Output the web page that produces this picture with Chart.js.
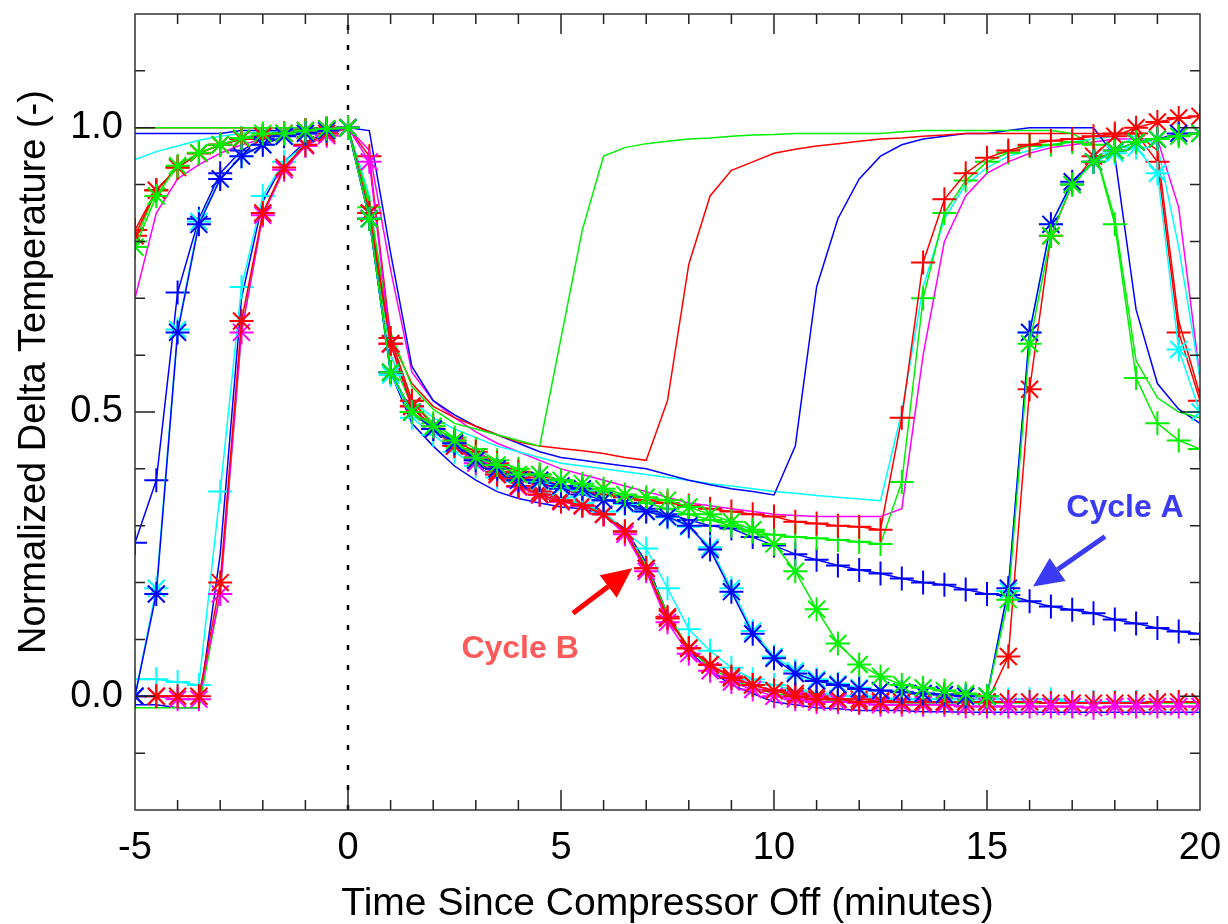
<!DOCTYPE html>
<html>
<head>
<meta charset="utf-8">
<script src="https://cdn.jsdelivr.net/npm/chart.js@4.4.1/dist/chart.umd.min.js"></script>
<style>
  html, body { margin: 0; padding: 0; background: #fff; }
  #wrap { width: 1228px; height: 924px; }
</style>
</head>
<body>
<div id="wrap"><canvas id="chart" width="1228" height="924"></canvas></div>
<script>
// time axis, minutes since compressor off
const minutes = [-5, -4.5, -4, -3.5, -3, -2.5, -2, -1.5, -1, -0.5,
  0, 0.5, 1, 1.5, 2, 2.5, 3, 3.5, 4, 4.5,
  5, 5.5, 6, 6.5, 7, 7.5, 8, 8.5, 9, 9.5,
  10, 10.5, 11, 11.5, 12, 12.5, 13, 13.5, 14, 14.5,
  15, 15.5, 16, 16.5, 17, 17.5, 18, 18.5, 19, 19.5, 20]

// asterisk series
const redStarB = [0.0, 0.0, 0.0, 0.0, 0.20, 0.66, 0.85, 0.93, 0.97, 0.99,
  1.0, 0.85, 0.62, 0.51, 0.47, 0.44, 0.415, 0.39, 0.37, 0.355,
  0.343, 0.336, 0.32, 0.29, 0.225, 0.137, 0.084, 0.056, 0.032, 0.02,
  0.01, 0.0, -0.005, -0.005, -0.01, -0.01, -0.01, -0.01, -0.01, -0.01,
  -0.01, 0.07, 0.54, 0.81, 0.90, 0.95, 0.985, 1.0, 1.01, 1.017, 1.02]
const magentaStar = [0.0, 0.0, -0.005, -0.005, 0.18, 0.64, 0.846, 0.926, 0.968, 0.986,
  1.0, 0.94, 0.62, 0.51, 0.47, 0.44, 0.41, 0.39, 0.368, 0.354,
  0.342, 0.335, 0.32, 0.285, 0.22, 0.13, 0.075, 0.045, 0.025, 0.012,
  0.0, -0.005, -0.01, -0.01, -0.012, -0.015, -0.015, -0.015, -0.015, -0.018,
  -0.018, -0.018, -0.018, -0.018, -0.018, -0.02, -0.018, -0.018, -0.018, -0.018, -0.018]
const redStarEarly = [0.81, 0.89, 0.93, 0.955, 0.97, 0.98, 0.985, 0.99, 0.995, 0.998,
  1.0, 0.85, 0.62, 0.51, 0.47, 0.445, 0.42, 0.395, 0.37, 0.36,
  0.345, 0.335, 0.32, 0.29, 0.225, 0.14, 0.085, 0.055, 0.035, 0.02,
  0.01, 0.005, 0.0, -0.005, -0.005, -0.008, -0.01, -0.01, -0.01, -0.01,
  -0.01, -0.01, -0.01, -0.012, -0.012, -0.012, -0.012, -0.012, -0.01, -0.01, -0.01]
const greenStar = [0.79, 0.88, 0.933, 0.956, 0.97, 0.982, 0.99, 0.99, 0.995, 0.998,
  1.0, 0.84, 0.57, 0.50, 0.475, 0.45, 0.42, 0.407, 0.39, 0.39,
  0.38, 0.374, 0.365, 0.355, 0.35, 0.345, 0.333, 0.32, 0.307, 0.293,
  0.268, 0.22, 0.153, 0.093, 0.056, 0.035, 0.02, 0.015, 0.01, 0.005,
  0.0, 0.17, 0.62, 0.81, 0.90, 0.94, 0.96, 0.975, 0.98, 0.985, 0.99]
const blueStar = [0.0, 0.18, 0.64, 0.83, 0.91, 0.95, 0.97, 0.985, 0.99, 0.995,
  1.0, 0.84, 0.57, 0.50, 0.47, 0.445, 0.415, 0.40, 0.38, 0.38,
  0.37, 0.365, 0.345, 0.34, 0.325, 0.316, 0.30, 0.258, 0.184, 0.11,
  0.067, 0.04, 0.027, 0.02, 0.013, 0.01, 0.007, 0.005, 0.003, 0.0,
  0.0, 0.19, 0.64, 0.83, 0.905, 0.94, 0.96, 0.975, 0.98, 0.99, 0.99]
const cyanStar = [0.0, 0.19, 0.645, 0.835, 0.91, 0.95, 0.97, 0.985, 0.99, 0.995,
  1.0, 0.84, 0.565, 0.50, 0.47, 0.445, 0.415, 0.40, 0.38, 0.378,
  0.368, 0.362, 0.345, 0.338, 0.325, 0.315, 0.298, 0.262, 0.19, 0.115,
  0.07, 0.045, 0.03, 0.022, 0.015, 0.01, 0.008, 0.005, 0.003, 0.0,
  0.0, 0.185, 0.64, 0.83, 0.90, 0.94, 0.955, 0.965, 0.92, 0.61, 0.50]

// plus series
const bluePlusA = [0.27, 0.38, 0.71, 0.84, 0.92, 0.96, 0.98, 0.99, 0.995, 0.998,
  1.0, 0.84, 0.57, 0.50, 0.47, 0.445, 0.42, 0.40, 0.385, 0.375,
  0.365, 0.355, 0.345, 0.34, 0.33, 0.32, 0.31, 0.30, 0.295, 0.28,
  0.265, 0.25, 0.24, 0.23, 0.222, 0.216, 0.207, 0.20, 0.196, 0.188,
  0.18, 0.178, 0.167, 0.158, 0.152, 0.146, 0.135, 0.128, 0.12, 0.114, 0.11]
const redPlus = [0.82, 0.89, 0.93, 0.955, 0.97, 0.98, 0.985, 0.99, 0.995, 0.998,
  1.0, 0.95, 0.63, 0.52, 0.475, 0.45, 0.43, 0.41, 0.395, 0.385,
  0.37, 0.36, 0.355, 0.35, 0.345, 0.34, 0.335, 0.33, 0.325, 0.32,
  0.316, 0.307, 0.304, 0.30, 0.298, 0.293, 0.49, 0.763, 0.874, 0.92,
  0.947, 0.96, 0.97, 0.977, 0.98, 0.985, 0.99, 0.99, 0.94, 0.64, 0.52]
const greenPlus = [0.80, 0.89, 0.93, 0.955, 0.97, 0.98, 0.985, 0.99, 0.995, 0.998,
  1.0, 0.86, 0.63, 0.52, 0.48, 0.455, 0.435, 0.415, 0.40, 0.39,
  0.38, 0.37, 0.36, 0.35, 0.34, 0.33, 0.32, 0.31, 0.30, 0.29,
  0.284, 0.28, 0.278, 0.275, 0.272, 0.268, 0.377, 0.70, 0.85, 0.907,
  0.94, 0.956, 0.968, 0.97, 0.975, 0.97, 0.83, 0.56, 0.48, 0.45, 0.435]
const cyanPlus = [0.03, 0.03, 0.025, 0.02, 0.36, 0.72, 0.88, 0.94, 0.97, 0.99,
  1.0, 0.84, 0.57, 0.49, 0.46, 0.43, 0.405, 0.385, 0.37, 0.36,
  0.35, 0.34, 0.325, 0.29, 0.26, 0.19, 0.118, 0.08, 0.05, 0.03,
  0.02, 0.01, 0.005, 0.0, 0.0, -0.003, -0.005, -0.005, -0.005, -0.005,
  -0.005, -0.005, -0.005, -0.005, -0.01, -0.01, -0.01, -0.01, -0.01, -0.01, -0.01]

// plain line series
const greenLine = [1.0, 1.0, 1.0, 1.0, 1.0, 1.0, 1.0, 1.0, 1.0, 1.0,
  1.0, 0.87, 0.64, 0.545, 0.505, 0.48, 0.47, 0.46, 0.45, 0.44,
  0.63, 0.82, 0.95, 0.965, 0.972, 0.976, 0.98, 0.982, 0.985, 0.987,
  0.988, 0.99, 0.99, 0.99, 0.99, 0.99, 0.993, 0.995, 0.995, 0.995,
  0.995, 0.995, 0.995, 0.995, 0.99, 0.97, 0.84, 0.59, 0.525, 0.50, 0.49]
const redLine = [1.0, 1.0, 1.0, 1.0, 1.0, 1.0, 1.0, 1.0, 1.0, 1.0,
  1.0, 0.86, 0.63, 0.55, 0.51, 0.49, 0.475, 0.46, 0.447, 0.44,
  0.436, 0.432, 0.427, 0.42, 0.415, 0.52, 0.76, 0.88, 0.925, 0.94,
  0.955, 0.962, 0.968, 0.972, 0.976, 0.98, 0.982, 0.985, 0.987, 0.99,
  0.99, 0.99, 0.99, 0.99, 0.99, 0.99, 0.99, 0.99, 0.96, 0.66, 0.53]
const blueLine = [0.99, 0.99, 0.99, 0.99, 0.99, 0.995, 0.995, 0.995, 0.998, 0.999,
  1.0, 0.995, 0.78, 0.58, 0.52, 0.495, 0.475, 0.46, 0.445, 0.43,
  0.42, 0.415, 0.41, 0.405, 0.40, 0.39, 0.38, 0.372, 0.365, 0.36,
  0.354, 0.44, 0.72, 0.84, 0.91, 0.95, 0.97, 0.98, 0.985, 0.99,
  0.99, 0.995, 1.0, 1.0, 1.0, 1.0, 0.95, 0.68, 0.55, 0.505, 0.48]
const cyanLine = [0.944, 0.958, 0.968, 0.978, 0.985, 0.99, 0.993, 0.995, 0.998, 1.0,
  1.0, 0.88, 0.60, 0.52, 0.49, 0.47, 0.455, 0.44, 0.43, 0.42,
  0.41, 0.405, 0.40, 0.395, 0.39, 0.385, 0.38, 0.374, 0.37, 0.365,
  0.36, 0.357, 0.353, 0.35, 0.347, 0.344, 0.50, 0.72, 0.84, 0.90,
  0.93, 0.95, 0.96, 0.97, 0.975, 0.98, 0.985, 0.985, 0.97, 0.79, 0.56]
const magentaLine = [0.70, 0.85, 0.91, 0.935, 0.955, 0.97, 0.98, 0.99, 0.995, 0.998,
  1.0, 0.96, 0.75, 0.57, 0.52, 0.49, 0.465, 0.445, 0.43, 0.415,
  0.40, 0.39, 0.38, 0.37, 0.36, 0.35, 0.34, 0.335, 0.33, 0.325,
  0.32, 0.318, 0.316, 0.316, 0.316, 0.316, 0.33, 0.60, 0.80, 0.88,
  0.92, 0.94, 0.955, 0.965, 0.97, 0.975, 0.98, 0.98, 0.98, 0.86, 0.56]
const greenLineLow = [-0.02, -0.02, -0.02, -0.02, 0.18, 0.64, 0.85, 0.93, 0.97, 0.99,
  1.0, 0.85, 0.60, 0.51, 0.47, 0.44, 0.415, 0.395, 0.375, 0.36,
  0.348, 0.338, 0.322, 0.29, 0.23, 0.145, 0.085, 0.05, 0.03, 0.015,
  0.005, 0.0, -0.005, -0.008, -0.01, -0.01, -0.012, -0.012, -0.012, -0.012,
  -0.012, -0.012, -0.012, -0.012, -0.012, -0.012, -0.012, -0.012, -0.012, -0.012, -0.012]
const blueLineLow = [-0.015, -0.015, -0.02, -0.02, 0.25, 0.70, 0.87, 0.94, 0.975, 0.99,
  1.0, 0.84, 0.57, 0.48, 0.44, 0.405, 0.38, 0.36, 0.348, 0.34,
  0.333, 0.33, 0.32, 0.295, 0.235, 0.145, 0.08, 0.045, 0.02, 0.005,
  -0.01, -0.015, -0.02, -0.022, -0.025, -0.025, -0.025, -0.027, -0.027, -0.028,
  -0.028, -0.028, -0.028, -0.028, -0.028, -0.028, -0.028, -0.028, -0.028, -0.028, -0.028]

// compressor-off marker
const offLineX = [0, 0]
const offLineY = [-0.2, 1.2]

const RED = '#ff0000', GREEN = '#00f000', BLUE = '#0000ff', CYAN = '#00ffff', MAGENTA = '#ff00ff'

// bottom to top
const series = [
  { values: blueLineLow, color: BLUE },
  { values: greenLineLow, color: GREEN },
  { values: magentaLine, color: MAGENTA },
  { values: cyanLine, color: CYAN },
  { values: blueLine, color: BLUE },
  { values: redLine, color: RED },
  { values: greenLine, color: GREEN },
  { values: cyanPlus, color: CYAN, marker: 'cross' },
  { values: bluePlusA, color: BLUE, marker: 'cross' },
  { values: greenPlus, color: GREEN, marker: 'cross' },
  { values: redPlus, color: RED, marker: 'cross' },
  { values: redStarEarly, color: RED, marker: 'star' },
  { values: magentaStar, color: MAGENTA, marker: 'star' },
  { values: redStarB, color: RED, marker: 'star' },
  { values: cyanStar, color: CYAN, marker: 'star' },
  { values: blueStar, color: BLUE, marker: 'star' },
  { values: greenStar, color: GREEN, marker: 'star' }
]

const notes = [
  { text: 'Cycle A', color: '#3b3bf5', x: 18.24, y: 0.33, from: [17.77, 0.281], to: [16.08, 0.193] },
  { text: 'Cycle B', color: '#ff5a5a', x: 4.04, y: 0.082, from: [5.28, 0.146], to: [6.67, 0.225], arrow: '#ff0000' }
]

const FONT = '"Liberation Sans", Arial, Helvetica, sans-serif'

const datasets = series.map((s, i) => ({
  data: minutes.map((m, k) => ({ x: m, y: s.values[k] })),
  borderColor: s.color,
  backgroundColor: s.color,
  borderWidth: 1.5,
  pointStyle: s.marker || false,
  pointRadius: s.marker ? 12 : 0,
  pointBorderWidth: 2,
  pointBorderColor: s.color,
  pointBackgroundColor: s.color,
  tension: 0,
  order: series.length - i
}))

datasets.push({
  data: offLineX.map((v, k) => ({ x: v, y: offLineY[k] })),
  borderColor: '#000',
  borderWidth: 2.5,
  borderDash: [5, 15],
  pointRadius: 0,
  order: series.length + 5
})

function drawArrow(ctx, x0, y0, x1, y1, color) {
  const ang = Math.atan2(y1 - y0, x1 - x0)
  const head = 30, half = 14
  const bx = x1 - Math.cos(ang) * head, by = y1 - Math.sin(ang) * head
  ctx.strokeStyle = color
  ctx.fillStyle = color
  ctx.lineWidth = 5
  ctx.beginPath()
  ctx.moveTo(x0, y0)
  ctx.lineTo(bx, by)
  ctx.stroke()
  ctx.beginPath()
  ctx.moveTo(x1, y1)
  ctx.lineTo(bx + Math.sin(ang) * half, by - Math.cos(ang) * half)
  ctx.lineTo(bx - Math.sin(ang) * half, by + Math.cos(ang) * half)
  ctx.closePath()
  ctx.fill()
}

const framePlugin = {
  id: 'frame',
  afterDraw(chart) {
    const { ctx, chartArea: a, scales: { x, y } } = chart
    ctx.save()
    // inward ticks
    ctx.strokeStyle = '#222'
    ctx.lineWidth = 1.5
    ctx.beginPath()
    for (let v = -4; v < 20; v++) {
      const px = x.getPixelForValue(v)
      const len = v % 5 === 0 ? 20 : 10
      ctx.moveTo(px, a.bottom); ctx.lineTo(px, a.bottom - len)
      ctx.moveTo(px, a.top); ctx.lineTo(px, a.top + len)
    }
    for (let t = -1; t <= 11; t++) {
      const py = y.getPixelForValue(t / 10)
      const len = t % 5 === 0 ? 20 : 10
      ctx.moveTo(a.left, py); ctx.lineTo(a.left + len, py)
      ctx.moveTo(a.right, py); ctx.lineTo(a.right - len, py)
    }
    ctx.stroke()
    ctx.strokeStyle = '#333'
    ctx.strokeRect(a.left, a.top, a.right - a.left, a.bottom - a.top)

    // y axis title
    ctx.save()
    ctx.translate(35, 372)
    ctx.rotate(-Math.PI / 2)
    ctx.fillStyle = '#000'
    ctx.font = '38px ' + FONT
    ctx.textAlign = 'center'
    ctx.textBaseline = 'middle'
    ctx.fillText('Normalized Delta Temperature (-)', 0, 0)
    ctx.restore()

    // cycle annotations
    notes.forEach(n => {
      drawArrow(ctx,
        x.getPixelForValue(n.from[0]), y.getPixelForValue(n.from[1]),
        x.getPixelForValue(n.to[0]), y.getPixelForValue(n.to[1]),
        n.arrow || n.color)
      ctx.fillStyle = n.color
      ctx.font = 'bold 32px ' + FONT
      ctx.textAlign = 'center'
      ctx.textBaseline = 'middle'
      ctx.fillText(n.text, x.getPixelForValue(n.x), y.getPixelForValue(n.y))
    })
    ctx.restore()
  }
}

function noPad(s) {
  s.paddingLeft = 0
  s.paddingRight = 0
  s.paddingTop = 0
  s.paddingBottom = 0
}

new Chart(document.getElementById('chart'), {
  type: 'line',
  data: { datasets },
  options: {
    responsive: false,
    animation: false,
    layout: { padding: { top: 10, right: 28, left: 0, bottom: 0 } },
    plugins: { legend: { display: false }, tooltip: { enabled: false } },
    scales: {
      x: {
        type: 'linear',
        min: -5,
        max: 20,
        grid: { display: false, drawTicks: false },
        border: { display: false },
        ticks: {
          stepSize: 1,
          autoSkip: false,
          maxRotation: 0,
          padding: 16,
          color: '#000',
          font: { family: FONT, size: 38 },
          callback: v => (v % 5 === 0 ? String(v) : '')
        },
        title: {
          display: true,
          text: 'Time Since Compressor Off (minutes)',
          color: '#000',
          font: { family: FONT, size: 39, lineHeight: 1.0 },
          padding: { top: 0, bottom: 0 }
        },
        afterFit: s => { s.height = 114; noPad(s) }
      },
      y: {
        min: -0.2,
        max: 1.2,
        grid: { display: false, drawTicks: false },
        border: { display: false },
        ticks: {
          stepSize: 0.1,
          autoSkip: false,
          padding: 12,
          color: '#000',
          font: { family: FONT, size: 38 },
          callback: v => {
            const t = Math.round(v * 10)
            return (t % 5 === 0 && t >= 0 && t <= 10) ? (t / 10).toFixed(1) : ''
          }
        },
        afterFit: s => { s.width = 135; noPad(s) }
      }
    }
  },
  plugins: [framePlugin]
})
</script>
</body>
</html>
